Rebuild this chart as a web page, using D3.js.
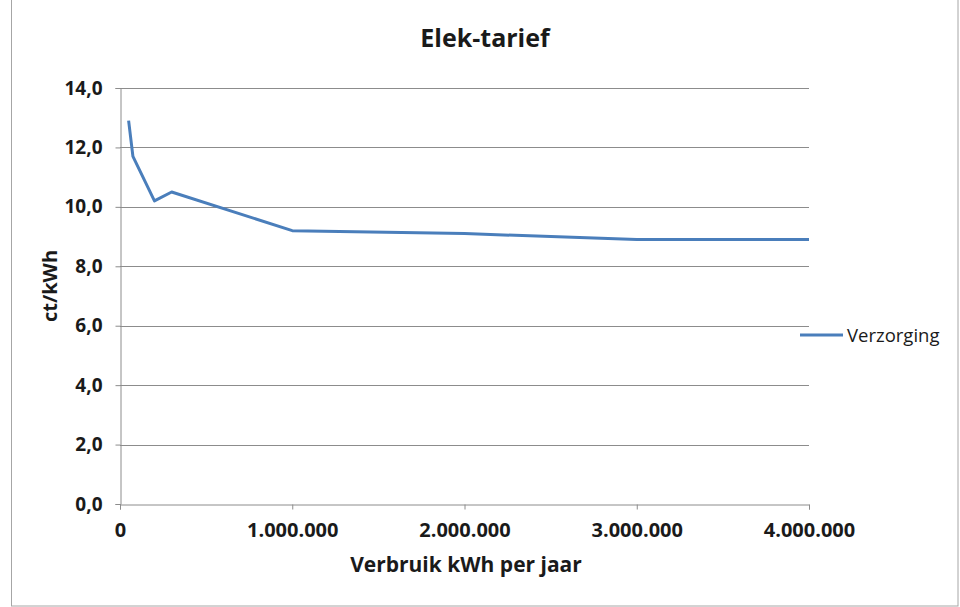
<!DOCTYPE html>
<html>
<head>
<meta charset="utf-8">
<script src="https://cdn.jsdelivr.net/npm/d3@7"></script>
<style>
  html, body { margin: 0; padding: 0; background: #fff; }
  svg { display: block; }
  text { font-family: "Open Sans", Lato, sans-serif; fill: #1a1a1a; }
</style>
</head>
<body>
<svg id="chart" width="960" height="607"></svg>
<script>
// Tariff per yearly consumption
const usage = [50000, 75000, 200000, 300000, 1000000, 2000000, 3000000, 4000000];
const tariff = [12.9, 11.7, 10.2, 10.5, 9.2, 9.1, 8.9, 8.9];
const seriesName = "Verzorging";
const xTicks = [0, 1000000, 2000000, 3000000, 4000000];
const yTicks = [0, 2, 4, 6, 8, 10, 12, 14];

const svg = d3.select("#chart");
const W = 960, H = 607;
const plot = { left: 120, right: 809, top: 88, bottom: 504 };
const FONT = '"Open Sans", Lato, sans-serif';

// outer chart frame
svg.append("rect")
  .attr("x", 11.5).attr("y", -1).attr("width", 946.5).attr("height", H)
  .attr("fill", "none").attr("stroke", "#a6a6a6").attr("stroke-width", 1);

const x = d3.scaleLinear().domain([0, 4000000]).range([plot.left, plot.right]);
const y = d3.scaleLinear().domain([0, 14]).range([plot.bottom, plot.top]);

const fmtX = v => d3.format(",")(v).replace(/,/g, ".");
const fmtY = v => d3.format(".1f")(v).replace(".", ",");

// horizontal gridlines
svg.append("g")
  .selectAll("line")
  .data(yTicks.filter(v => v > 0))
  .join("line")
  .attr("x1", plot.left).attr("x2", plot.right)
  .attr("y1", d => Math.round(y(d)) + 0.5).attr("y2", d => Math.round(y(d)) + 0.5)
  .attr("stroke", "#8c8c8c").attr("stroke-width", 1);

// y axis
const yAxis = svg.append("g")
  .attr("transform", `translate(${plot.left + 0.5},0)`)
  .call(d3.axisLeft(y).tickValues(yTicks).tickFormat(fmtY).tickSize(5).tickPadding(13));
yAxis.select(".domain").attr("stroke", "#8c8c8c");
yAxis.selectAll(".tick line").attr("stroke", "#8c8c8c");
yAxis.selectAll(".tick text")
  .attr("font-size", 19).attr("font-weight", 700)
  .style("font-family", FONT).attr("fill", "#1a1a1a");

// x axis
const xAxis = svg.append("g")
  .attr("transform", `translate(0,${plot.bottom + 0.5})`)
  .call(d3.axisBottom(x).tickValues(xTicks).tickFormat(fmtX).tickSize(5).tickPadding(13));
xAxis.select(".domain").attr("stroke", "#8c8c8c");
xAxis.selectAll(".tick line").attr("stroke", "#8c8c8c");
xAxis.selectAll(".tick text")
  .attr("font-size", 20).attr("font-weight", 700)
  .style("font-family", FONT).attr("fill", "#1a1a1a");

// series line
const line = d3.line().x((d, i) => x(usage[i])).y(d => y(d));
svg.append("path")
  .datum(tariff)
  .attr("d", line)
  .attr("fill", "none")
  .attr("stroke", "#4a7ebb")
  .attr("stroke-width", 3)
  .attr("stroke-linejoin", "round");

// title
svg.append("text")
  .attr("x", 485).attr("y", 47)
  .attr("text-anchor", "middle")
  .attr("font-size", 25).attr("font-weight", 700)
  .text("Elek-tarief");

// axis titles
svg.append("text")
  .attr("x", 466).attr("y", 572)
  .attr("text-anchor", "middle")
  .attr("font-size", 21).attr("font-weight", 700)
  .text("Verbruik kWh per jaar");

svg.append("text")
  .attr("transform", "translate(57,286) rotate(-90)")
  .attr("text-anchor", "middle")
  .attr("font-size", 20).attr("font-weight", 700)
  .text("ct/kWh");

// legend
const lg = svg.append("g").attr("transform", "translate(800,335)");
lg.append("line")
  .attr("x1", 0).attr("x2", 43).attr("y1", 0).attr("y2", 0)
  .attr("stroke", "#4a7ebb").attr("stroke-width", 3);
lg.append("text")
  .attr("x", 47).attr("y", 7)
  .attr("font-size", 18.5)
  .text(seriesName);
</script>
</body>
</html>
